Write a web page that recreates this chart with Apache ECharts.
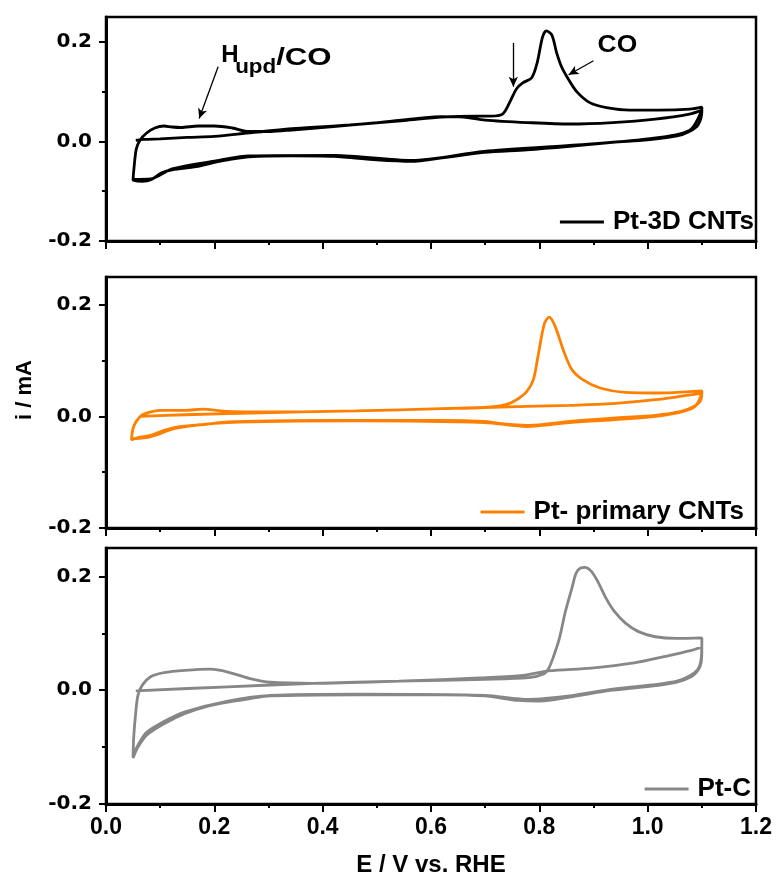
<!DOCTYPE html>
<html>
<head>
<meta charset="utf-8">
<script src="https://cdn.jsdelivr.net/npm/echarts@6/dist/echarts.min.js"></script>
<style>
  html, body { margin: 0; padding: 0; background: #fff; }
  #chart { width: 779px; height: 878px; }
</style>
</head>
<body>
<div id="chart"></div>
<script>
// ---------- Pt-3D CNTs (CO stripping, then blank cycle) ----------
const cnt3dStripE = [0.055, 0.07, 0.10, 0.15, 0.20, 0.27, 0.35, 0.45, 0.55, 0.62, 0.68, 0.71, 0.732, 0.745, 0.758, 0.77, 0.786, 0.796, 0.806, 0.813, 0.823, 0.832, 0.841, 0.852, 0.869, 0.893, 0.924, 0.967, 1.02, 1.078, 1.10];
const cnt3dStripI = [0.002, 0.004, 0.005, 0.008, 0.010, 0.018, 0.026, 0.033, 0.042, 0.049, 0.051, 0.051, 0.055, 0.078, 0.106, 0.118, 0.128, 0.158, 0.210, 0.222, 0.214, 0.178, 0.150, 0.128, 0.100, 0.078, 0.068, 0.063, 0.063, 0.065, 0.069];
const cnt3dCathE = [1.10, 1.093, 1.077, 1.054, 1.0, 0.935, 0.856, 0.777, 0.698, 0.62, 0.564, 0.50, 0.42, 0.343, 0.264, 0.225, 0.209, 0.17, 0.122, 0.103, 0.083, 0.067, 0.05];
const cnt3dCathI = [0.060, 0.033, 0.020, 0.011, 0.003, -0.002, -0.010, -0.017, -0.022, -0.033, -0.040, -0.037, -0.030, -0.029, -0.031, -0.037, -0.040, -0.050, -0.057, -0.063, -0.077, -0.080, -0.078];
const cnt3dBlankE = [0.05, 0.052, 0.056, 0.063, 0.075, 0.09, 0.107, 0.122, 0.138, 0.17, 0.20, 0.233, 0.264, 0.304, 0.343, 0.42, 0.50, 0.58, 0.62, 0.66, 0.70, 0.778, 0.857, 0.935, 1.014, 1.077, 1.10];
const cnt3dBlankI = [-0.078, -0.050, -0.015, 0.003, 0.017, 0.027, 0.031, 0.029, 0.028, 0.031, 0.031, 0.027, 0.020, 0.020, 0.023, 0.030, 0.038, 0.047, 0.050, 0.049, 0.043, 0.038, 0.035, 0.038, 0.045, 0.055, 0.063];
const cnt3dCath2E = [1.10, 1.077, 1.0, 0.856, 0.698, 0.564, 0.422, 0.264, 0.209, 0.122, 0.083, 0.05];
const cnt3dCath2I = [0.063, 0.022, 0.005, -0.008, -0.020, -0.038, -0.028, -0.029, -0.038, -0.055, -0.075, -0.076];

// ---------- Pt- primary CNTs ----------
const cntPrimStripE = [0.063, 0.146, 0.304, 0.462, 0.62, 0.699, 0.738, 0.758, 0.777, 0.789, 0.797, 0.809, 0.818, 0.829, 0.845, 0.86, 0.88, 0.912, 0.959, 1.014, 1.10];
const cntPrimStripI = [0.000, 0.003, 0.007, 0.010, 0.014, 0.016, 0.021, 0.030, 0.045, 0.066, 0.105, 0.165, 0.178, 0.162, 0.117, 0.084, 0.066, 0.051, 0.043, 0.042, 0.046];
const cntPrimCathE = [1.10, 1.097, 1.085, 1.062, 1.014, 0.935, 0.856, 0.809, 0.777, 0.738, 0.699, 0.62, 0.462, 0.304, 0.225, 0.185, 0.13, 0.107, 0.083, 0.059, 0.047];
const cntPrimCathI = [0.042, 0.027, 0.018, 0.009, 0.002, -0.003, -0.009, -0.014, -0.016, -0.014, -0.009, -0.007, -0.007, -0.008, -0.010, -0.014, -0.019, -0.025, -0.034, -0.038, -0.042];
const cntPrimBlankE = [0.047, 0.051, 0.063, 0.075, 0.099, 0.146, 0.178, 0.225, 0.304, 0.462, 0.62, 0.777, 0.856, 0.935, 1.014, 1.10];
const cntPrimBlankI = [-0.042, -0.018, 0.000, 0.006, 0.011, 0.011, 0.013, 0.009, 0.008, 0.010, 0.014, 0.018, 0.020, 0.023, 0.030, 0.042];
const cntPrimCath2E = [1.10, 1.085, 1.014, 0.856, 0.777, 0.699, 0.462, 0.225, 0.13, 0.083, 0.05];
const cntPrimCath2I = [0.042, 0.016, 0.000, -0.011, -0.018, -0.011, -0.008, -0.011, -0.021, -0.036, -0.040];

// ---------- Pt-C ----------
const ptcStripE = [0.055, 0.225, 0.383, 0.541, 0.699, 0.78, 0.809, 0.817, 0.825, 0.837, 0.848, 0.86, 0.868, 0.876, 0.884, 0.896, 0.908, 0.923, 0.939, 0.959, 0.983, 1.014, 1.054, 1.10];
const ptcStripI = [-0.001, 0.006, 0.012, 0.016, 0.019, 0.022, 0.029, 0.038, 0.056, 0.091, 0.138, 0.179, 0.206, 0.215, 0.216, 0.209, 0.191, 0.162, 0.138, 0.118, 0.103, 0.094, 0.091, 0.092];
const ptcCathE = [1.10, 1.099, 1.093, 1.081, 1.054, 1.014, 0.935, 0.856, 0.801, 0.762, 0.699, 0.62, 0.462, 0.304, 0.264, 0.225, 0.185, 0.146, 0.107, 0.075, 0.059, 0.05];
const ptcCathI = [0.076, 0.050, 0.035, 0.024, 0.014, 0.008, 0.000, -0.012, -0.019, -0.018, -0.010, -0.008, -0.008, -0.010, -0.015, -0.021, -0.029, -0.041, -0.059, -0.079, -0.100, -0.119];
const ptcBlankE = [0.05, 0.051, 0.055, 0.059, 0.067, 0.083, 0.107, 0.146, 0.193, 0.225, 0.264, 0.304, 0.383, 0.541, 0.699, 0.77, 0.817, 0.896, 0.975, 1.03, 1.077, 1.10];
const ptcBlankI = [-0.119, -0.085, -0.038, -0.009, 0.009, 0.024, 0.031, 0.035, 0.037, 0.032, 0.021, 0.014, 0.012, 0.016, 0.022, 0.026, 0.034, 0.039, 0.048, 0.059, 0.069, 0.076];
const ptcCath2E = [1.10, 1.093, 1.054, 0.935, 0.856, 0.78, 0.699, 0.462, 0.304, 0.225, 0.146, 0.107, 0.075, 0.06, 0.05];
const ptcCath2I = [0.076, 0.037, 0.016, 0.002, -0.010, -0.016, -0.009, -0.007, -0.009, -0.019, -0.038, -0.055, -0.074, -0.095, -0.115];

// ---------- axes ----------
const xTickValues = [0, 0.2, 0.4, 0.6, 0.8, 1.0, 1.2];
const yTickValues = [-0.2, 0, 0.2];
const yMinorValues = [-0.1, 0.1];

// ---------- annotations (data coordinates of the top panel) ----------
const arrowHupd = [[0.207, 0.150], [0.172, 0.046]];
const arrowShoulder = [[0.752, 0.198], [0.752, 0.110]];
const arrowCO = [[0.900, 0.162], [0.854, 0.134]];
const hupdAnchor = [0.2126, 0.172];
const coAnchor = [0.9076, 0.194];

function joinSweeps(sweeps) {
  const pts = [];
  sweeps.forEach(([E, I]) => E.forEach((e, k) => pts.push([e, I[k]])));
  return pts;
}

const panels = [
  { name: 'Pt-3D CNTs', color: '#000000',
    sweeps: [[cnt3dStripE, cnt3dStripI], [cnt3dCathE, cnt3dCathI], [cnt3dBlankE, cnt3dBlankI], [cnt3dCath2E, cnt3dCath2I]],
    grid: { top: 17, height: 224 }, legend: { right: 25, top: 208 } },
  { name: 'Pt- primary CNTs', color: '#FF8000',
    sweeps: [[cntPrimStripE, cntPrimStripI], [cntPrimCathE, cntPrimCathI], [cntPrimBlankE, cntPrimBlankI], [cntPrimCath2E, cntPrimCath2I]],
    grid: { top: 277, height: 251 }, legend: { right: 35, top: 498 } },
  { name: 'Pt-C', color: '#878787',
    sweeps: [[ptcStripE, ptcStripI], [ptcCathE, ptcCathI], [ptcBlankE, ptcBlankI], [ptcCath2E, ptcCath2I]],
    grid: { top: 548, height: 259 }, legend: { right: 28, top: 775 } }
];

const BLACK = '#000';
const labelFont = { fontFamily: 'Liberation Sans, Arial, sans-serif', fontWeight: 'bold', color: BLACK };

const chart = echarts.init(document.getElementById('chart'), null, { renderer: 'canvas' });

const option = {
  animation: false,
  backgroundColor: '#fff',
  grid: panels.map(p => ({
    left: 106, width: 650, top: p.grid.top, height: p.grid.height,
    show: true, borderColor: BLACK, borderWidth: 2.5, backgroundColor: 'transparent',
    containLabel: false
  })),
  xAxis: panels.map((p, g) => ({
    type: 'value', gridIndex: g, min: 0, max: 1.2, interval: 0.2,
    name: g === 2 ? 'E / V vs. RHE' : '',
    nameLocation: 'middle', nameGap: 49,
    nameTextStyle: Object.assign({ fontSize: 24 }, labelFont),
    axisLine: { show: true, onZero: false, lineStyle: { color: BLACK, width: 3 } },
    axisTick: { show: true, inside: false, length: 8, customValues: xTickValues, lineStyle: { color: BLACK, width: 2 } },
    minorTick: { show: true, splitNumber: 2, length: 4, lineStyle: { color: BLACK, width: 2 } },
    axisLabel: Object.assign({ show: g === 2, fontSize: 23, margin: 12,
      customValues: xTickValues, formatter: v => v.toFixed(1) }, labelFont),
    splitLine: { show: false }, minorSplitLine: { show: false }
  })),
  yAxis: panels.flatMap((p, g) => [
    { type: 'value', gridIndex: g, min: -0.2, max: 0.25, position: 'left',
      axisLine: { show: true, onZero: false, lineStyle: { color: BLACK, width: 3 } },
      axisTick: { show: true, inside: false, length: 7, customValues: yTickValues, lineStyle: { color: BLACK, width: 2 } },
      axisLabel: { show: true, customValues: yTickValues, margin: 14,
        fontFamily: 'DejaVu Sans, sans-serif', fontWeight: 'bold', fontSize: 20, color: BLACK,
        formatter: v => (yTickValues.some(t => Math.abs(t - v) < 1e-9) ? v.toFixed(1) : '') },
      splitLine: { show: false } },
    { type: 'value', gridIndex: g, min: -0.2, max: 0.25, position: 'left',
      axisLine: { show: false },
      axisTick: { show: true, inside: false, length: 4, customValues: yMinorValues, lineStyle: { color: BLACK, width: 2 } },
      axisLabel: { show: false },
      splitLine: { show: false } }
  ]),
  legend: panels.map(p => ({
    data: [p.name], right: p.legend.right, top: p.legend.top, padding: 0,
    icon: 'rect', itemWidth: 44, itemHeight: 3, itemGap: 0, selectedMode: false,
    textStyle: Object.assign({ fontSize: 26, lineHeight: 28, padding: [0, 0, 0, 4] }, labelFont)
  })),
  series: panels.map((p, g) => {
    const s = {
      type: 'line', name: p.name, xAxisIndex: g, yAxisIndex: 2 * g,
      data: joinSweeps(p.sweeps),
      showSymbol: false, symbol: 'none', smooth: 0.3,
      lineStyle: { color: p.color, width: 2.8 }, itemStyle: { color: p.color },
      emphasis: { disabled: true }
    };
    if (g === 0) {
      s.markLine = {
        silent: true, symbol: ['none', 'arrow'], symbolSize: [7, 10],
        label: { show: false },
        lineStyle: { color: BLACK, width: 1.3, type: 'solid' },
        emphasis: { disabled: true },
        data: [arrowHupd, arrowShoulder, arrowCO].map(a => [{ coord: a[0] }, { coord: a[1] }])
      };
    }
    return s;
  })
};

chart.setOption(option);

// text annotations placed from data coordinates of the top panel
const hp = chart.convertToPixel({ seriesIndex: 0 }, hupdAnchor);
const cp = chart.convertToPixel({ seriesIndex: 0 }, coAnchor);
const txt = (x, y, text, size, opts, align) => Object.assign({
  type: 'text', x, y, silent: true,
  style: { text, fill: BLACK, font: 'bold ' + size + 'px "Liberation Sans", Arial, sans-serif',
    align: align || 'left', verticalAlign: 'middle',
    textAlign: align || 'left', textVerticalAlign: 'middle' }
}, opts || {});

chart.setOption({
  graphic: [
    txt(hp[0], hp[1], 'H', 24),
    txt(hp[0] + 14, hp[1] + 12, 'upd', 20, { scaleX: 1.12 }),
    txt(hp[0] + 55, hp[1] + 2.5, '/CO', 24, { scaleX: 1.3 }),
    txt(cp[0], cp[1], 'CO', 24, { scaleX: 1.1 }),
    txt(25, 390, 'i / mA', 22, { rotation: Math.PI / 2 }, 'center')
  ]
});
</script>
</body>
</html>
